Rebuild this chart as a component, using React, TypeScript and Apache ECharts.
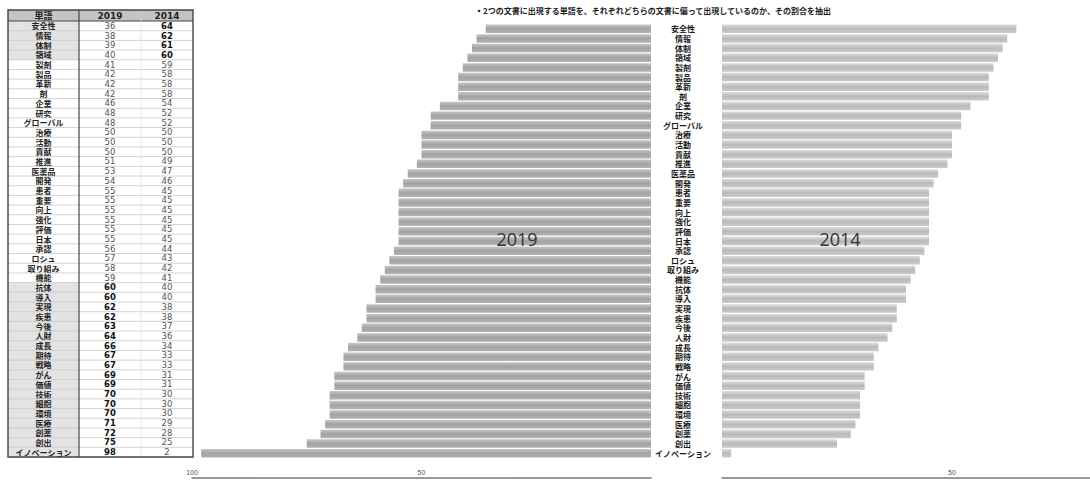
import React, { useEffect, useRef } from "react";
import * as echarts from "echarts";

// Words appearing in both documents, with the share (%) found in each year's document
const words = [
  "安全性", "情報", "体制", "領域", "製剤", "製品", "革新", "剤", "企業", "研究",
  "グローバル", "治療", "活動", "貢献", "推進", "医薬品", "開発", "患者", "重要", "向上",
  "強化", "評価", "日本", "承認", "ロシュ", "取り組み", "機能", "抗体", "導入", "実現",
  "疾患", "今後", "人財", "成長", "期待", "戦略", "がん", "価値", "技術", "細胞",
  "環境", "医療", "創薬", "創出", "イノベーション",
];
const share2019 = [
  36, 38, 39, 40, 41, 42, 42, 42, 46, 48,
  48, 50, 50, 50, 51, 53, 54, 55, 55, 55,
  55, 55, 55, 56, 57, 58, 59, 60, 60, 62,
  62, 63, 64, 66, 67, 67, 69, 69, 70, 70,
  70, 71, 72, 75, 98,
];
const share2014 = [
  64, 62, 61, 60, 59, 58, 58, 58, 54, 52,
  52, 50, 50, 50, 49, 47, 46, 45, 45, 45,
  45, 45, 45, 44, 43, 42, 41, 40, 40, 38,
  38, 37, 36, 34, 33, 33, 31, 31, 30, 30,
  30, 29, 28, 25, 2,
];
const headers = ["単語", "2019", "2014"];
const titleText = "▪2つの文書に出現する単語を、それぞれどちらの文書に偏って出現しているのか、その割合を抽出";

const JP = '"Noto Sans CJK JP", "Noto Sans", sans-serif';
const NUM = '"DejaVu Sans", "Noto Sans", sans-serif';

function buildTable() {
  const x0 = 8, x1 = 79, x2 = 141, x3 = 193;
  const top = 10, headH = 11;
  const rowTop = top + headH;
  const rowH = (457 - rowTop) / words.length;
  const els: any[] = [];
  // header
  els.push({ type: "rect", shape: { x: x0, y: top, width: x3 - x0, height: headH }, style: { fill: "#c4c4c4" } });
  const cols = [(x0 + x1) / 2, (x1 + x2) / 2, (x2 + x3) / 2];
  headers.forEach((h, i) => {
    els.push({
      type: "text", x: cols[i], y: top + headH / 2,
      style: { text: h, fill: "#222", font: `bold 9px ${i === 0 ? JP : NUM}`, align: "center", verticalAlign: "middle" },
    });
  });
  words.forEach((w, i) => {
    const y = rowTop + i * rowH;
    const hi2014 = share2014[i] >= 60;
    const hi2019 = share2019[i] >= 60;
    if (hi2014 || hi2019) {
      els.push({ type: "rect", shape: { x: x0, y, width: x1 - x0, height: rowH }, style: { fill: "#e3e3e3" } });
    }
    els.push({
      type: "text", x: cols[0], y: y + rowH / 2,
      style: { text: w, fill: "#222", font: `bold 8px ${JP}`, align: "center", verticalAlign: "middle" },
    });
    els.push({
      type: "text", x: cols[1], y: y + rowH / 2,
      style: { text: String(share2019[i]), fill: hi2019 ? "#111" : "#555", font: `${hi2019 ? "bold " : ""}8.5px ${NUM}`, align: "center", verticalAlign: "middle" },
    });
    els.push({
      type: "text", x: cols[2], y: y + rowH / 2,
      style: { text: String(share2014[i]), fill: hi2014 ? "#111" : "#555", font: `${hi2014 ? "bold " : ""}8.5px ${NUM}`, align: "center", verticalAlign: "middle" },
    });
    if (i > 0) {
      els.push({ type: "line", shape: { x1: x0, y1: y, x2: x3, y2: y }, style: { stroke: "#c8c8c8", lineWidth: 0.8 } });
    }
  });
  // frame and separators
  els.push({ type: "line", shape: { x1: x0, y1: rowTop, x2: x3, y2: rowTop }, style: { stroke: "#444", lineWidth: 1.2 } });
  els.push({ type: "line", shape: { x1: x1, y1: top, x2: x1, y2: 457 }, style: { stroke: "#444", lineWidth: 1.2 } });
  els.push({ type: "line", shape: { x1: x2, y1: top, x2: x2, y2: 457 }, style: { stroke: "#d8d8d8", lineWidth: 0.6 } });
  els.push({ type: "rect", shape: { x: x0, y: top, width: x3 - x0, height: 457 - top }, style: { fill: "none", stroke: "#444", lineWidth: 1.4 } });
  return els;
}

export default function App() {
  const ref = useRef<HTMLDivElement>(null);
  useEffect(() => {
    if (!ref.current) return;
    const chart = echarts.init(ref.current, null, { renderer: "svg" });
    const gradLeft = new echarts.graphic.LinearGradient(0, 0, 0, 1, [
      { offset: 0, color: "#c6c6c6" },
      { offset: 0.5, color: "#a2a2a2" },
      { offset: 1, color: "#b2b2b2" },
    ]);
    const gradRight = new echarts.graphic.LinearGradient(0, 0, 0, 1, [
      { offset: 0, color: "#dcdcdc" },
      { offset: 0.5, color: "#b9b9b9" },
      { offset: 1, color: "#cbcbcb" },
    ]);
    const axisCommon = {
      type: "value" as const,
      interval: 50,
      splitLine: { show: false },
      axisTick: { show: false },
      axisLine: { show: true, lineStyle: { color: "#777", width: 1.5 } },
      offset: 20,
    };
    chart.setOption({
      animation: false,
      backgroundColor: "#fff",
      grid: [
        { left: 192, width: 459, top: 24, height: 434 },
        { left: 722, width: 368, top: 24, height: 434 },
      ],
      xAxis: [
        {
          ...axisCommon, gridIndex: 0, min: 0, max: 100, inverse: true,
          axisLabel: { inside: true, fontSize: 7, color: "#555", showMinLabel: false, margin: 2 },
        },
        {
          ...axisCommon, gridIndex: 1, min: 0, max: 80,
          axisLabel: { inside: true, fontSize: 7, color: "#555", showMinLabel: false, showMaxLabel: false, margin: 2 },
        },
      ],
      yAxis: [
        {
          type: "category", gridIndex: 0, data: words, inverse: true,
          axisLabel: { show: false }, axisLine: { show: false }, axisTick: { show: false },
        },
        {
          type: "category", gridIndex: 1, data: words, inverse: true,
          axisLine: { show: false }, axisTick: { show: false },
          axisLabel: {
            interval: 0, align: "center", margin: 39, fontSize: 8, fontWeight: "bold",
            color: "#1a1a1a", fontFamily: JP,
          },
        },
      ],
      series: [
        {
          name: "2019", type: "bar", xAxisIndex: 0, yAxisIndex: 0, data: share2019,
          barCategoryGap: "12%", itemStyle: { color: gradLeft },
        },
        {
          name: "2014", type: "bar", xAxisIndex: 1, yAxisIndex: 1, data: share2014,
          barCategoryGap: "12%", itemStyle: { color: gradRight },
        },
      ],
      graphic: [
        ...buildTable(),
        {
          type: "text", x: 475, y: 10, z: 100,
          style: { text: titleText, fill: "#222", font: `bold 8px ${JP}`, verticalAlign: "middle" },
        },
        {
          type: "text", x: 517, y: 239, z: 100,
          style: { text: "2019", fill: "#333", font: `18px "Open Sans", "Noto Sans", sans-serif`, align: "center", verticalAlign: "middle" },
        },
        {
          type: "text", x: 840, y: 239, z: 100,
          style: { text: "2014", fill: "#333", font: `18px "Open Sans", "Noto Sans", sans-serif`, align: "center", verticalAlign: "middle" },
        },
      ],
    });
    return () => chart.dispose();
  }, []);
  return (
    <div
      ref={ref}
      style={{ position: "fixed", left: 0, top: 0, width: 1090, height: 480, background: "#fff" }}
    />
  );
}
